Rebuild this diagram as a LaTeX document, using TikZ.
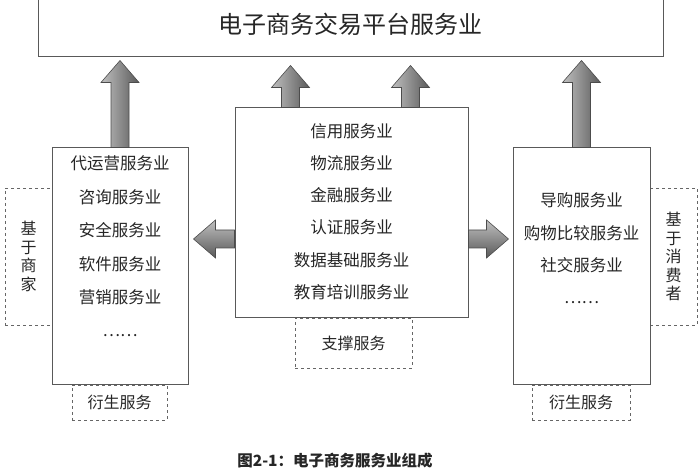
\documentclass[tikz,border=0pt]{standalone}
\usepackage{fontspec}
\setmainfont{Noto Sans CJK SC}
\usetikzlibrary{positioning,calc}

% block arrow from #2 to #3
\newcommand\fatarrow[3][]{%
  \coordinate (fa-h) at ($(#3)!22pt!(#2)$);
  \path[#1] ($(#2)!9pt!90:(#3)$) -- ($(fa-h)!9pt!90:(#3)$) -- ($(fa-h)!19pt!90:(#3)$) -- (#3)
    -- ($(fa-h)!19pt!-90:(#3)$) -- ($(fa-h)!9pt!-90:(#3)$) -- ($(#2)!9pt!-90:(#3)$) -- cycle;}

\begin{document}
\begin{tikzpicture}[x=1pt, y=1pt,
  frame/.style={draw=black!65, line width=1pt, fill=white, inner sep=0pt},
  items/.style={align=center, inner sep=0pt, text=black!85, font=\fontsize{16.5}{#1}\selectfont},
  side/.style={draw=black!60, dashed, line width=0.8pt, align=center, inner sep=0pt, text=black!85, font=\fontsize{16}{18.5}\selectfont},
  vshade/.style={draw=black!70, line width=0.6pt, left color=black!25, right color=black!65},
  hshade/.style={draw=black!70, line width=0.6pt, top color=black!25, bottom color=black!65}
]
\useasboundingbox (0,0) rectangle (700,470);

% dashed labels
\node[side, minimum width=47pt, minimum height=137pt] (lbase) at (28.5,213.5) {基\\于\\商\\家};
\node[side, minimum width=47pt, minimum height=137pt] (rbase) at (673.5,213.5) {基\\于\\消\\费\\者};
\node[side, minimum width=95pt, minimum height=35pt] (lderiv) at (119.5,67.5) {衍生服务};
\node[side, minimum width=98pt, minimum height=35pt] (rderiv) at (581,67.5) {衍生服务};
\node[side, minimum width=117pt, minimum height=50pt] (support) at (353.5,127) {支撑服务};

% boxes
\node[frame, minimum width=625pt, minimum height=66pt, text=black!85, font=\fontsize{24}{28}\selectfont] (top) at (350.5,446) {电子商务交易平台服务业};
\node[frame, minimum width=136pt, minimum height=237pt] (lbox) at (120,203.5) {};
\node[frame, minimum width=233pt, minimum height=210pt] (cbox) at (351.5,257) {};
\node[frame, minimum width=137pt, minimum height=237pt] (rbox) at (581.5,203.5) {};

\node[items=33.4] (llist) at (120,223.5) {代运营服务业\\咨询服务业\\安全服务业\\软件服务业\\营销服务业\\……};
\node[items=32.2] (clist) at (351.5,258.5) {信用服务业\\物流服务业\\金融服务业\\认证服务业\\数据基础服务业\\教育培训服务业};
\node[items=32.3] (rlist) at (581.5,221.5) {导购服务业\\购物比较服务业\\社交服务业\\……};

% arrows
\coordinate (t1) at ($(top.south -| lbox.north)+(0,-3)$);
\coordinate (t2) at ($(top.south -| cbox.north)+(-61,-8)$);
\coordinate (s2) at (cbox.north -| t2);
\coordinate (t3) at ($(top.south -| cbox.north)+(59,-8)$);
\coordinate (s3) at (cbox.north -| t3);
\coordinate (t4) at ($(top.south -| rbox.north)+(0,-3)$);
\fatarrow[vshade]{lbox.north}{t1}
\fatarrow[vshade]{s2}{t2}
\fatarrow[vshade]{s3}{t3}
\fatarrow[vshade]{rbox.north}{t4}

\coordinate (s5) at ($(cbox.west)+(0,-26)$);
\coordinate (t5) at ($(lbox.east |- s5)+(5,0)$);
\coordinate (s6) at ($(cbox.east)+(0,-26)$);
\coordinate (t6) at ($(rbox.west |- s6)+(-4,0)$);
\fatarrow[hshade]{s5}{t5}
\fatarrow[hshade]{s6}{t6}

\node[anchor=south, inner sep=0pt, text=black!85, font=\fontsize{15.5}{18}\selectfont\bfseries] (caption) at (335,2) {图2-1：电子商务服务业组成};
\end{tikzpicture}
\end{document}
